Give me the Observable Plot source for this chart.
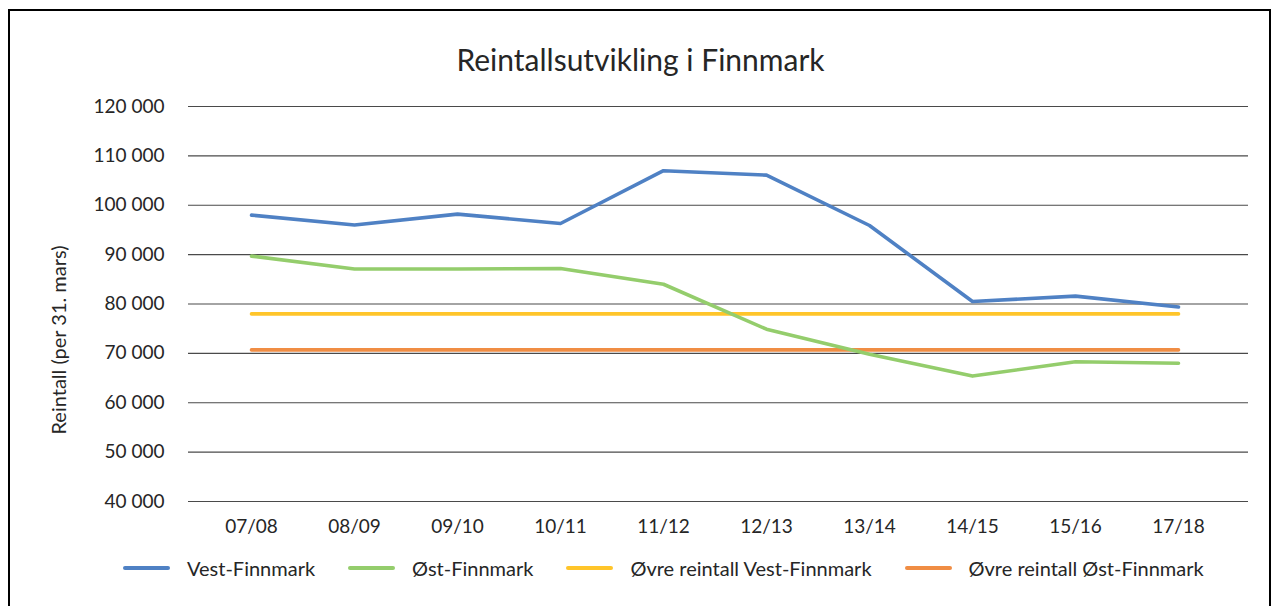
<!DOCTYPE html>
<html><head><meta charset="utf-8">
<script src="https://cdn.jsdelivr.net/npm/d3@7"></script>
<script src="https://cdn.jsdelivr.net/npm/@observablehq/plot@0.6"></script>
<style>
html,body{margin:0;padding:0;background:#fff}
body{font-family:Lato,"Noto Sans",sans-serif;color:#262626}
#wrap{position:relative;width:1273px;height:606px;overflow:hidden;background:#fff}
#frame{position:absolute;left:8px;top:9px;width:1263px;height:610px;border:2px solid #000;box-sizing:border-box;pointer-events:none}
#chart{position:absolute;left:0;top:0}
#title{position:absolute;left:4px;width:1273px;top:44px;text-align:center;font-size:30px;line-height:1;white-space:nowrap}
#ylab{position:absolute;left:58px;top:340px;transform:translate(-50%,-50%) rotate(-90deg);font-size:20px;line-height:1;white-space:nowrap}
#legend{position:absolute;left:123px;top:558px;display:flex;align-items:center;gap:33px;font-size:20px;line-height:20px;white-space:nowrap}
.item{display:flex;align-items:center;gap:17px}
.sw{width:47px;height:4px;border-radius:2px}
</style></head>
<body>
<div id="wrap">
  <div id="chart"></div>
  <div id="title"></div>
  <div id="ylab"></div>
  <div id="legend"></div>
  <div id="frame"></div>
</div>
<script>
const title = "Reintallsutvikling i Finnmark";
const yLabel = "Reintall (per 31. mars)";
const periods = ["07/08","08/09","09/10","10/11","11/12","12/13","13/14","14/15","15/16","17/18"];
const vestFinnmark = [98000, 96000, 98200, 96300, 107000, 106100, 95900, 80500, 81600, 79400];
const ostFinnmark  = [89700, 87100, 87100, 87200, 84000, 74900, 69800, 65400, 68300, 68000];
const ovreVest     = [78000, 78000, 78000, 78000, 78000, 78000, 78000, 78000, 78000, 78000];
const ovreOst      = [70700, 70700, 70700, 70700, 70700, 70700, 70700, 70700, 70700, 70700];
const seriesNames  = ["Vest-Finnmark","Øst-Finnmark","Øvre reintall Vest-Finnmark","Øvre reintall Øst-Finnmark"];
const seriesColors = ["#4F81C4","#94CD6C","#FFC52A","#F08D44"];
const yTicks = [40000,50000,60000,70000,80000,90000,100000,110000,120000];

const seriesValues = [vestFinnmark, ostFinnmark, ovreVest, ovreOst];
const rows = [];
seriesNames.forEach((s, i) => periods.forEach((p, j) => rows.push({series: s, period: p, value: seriesValues[i][j]})));

const fmt = d3.formatLocale({decimal: ",", thousands: " ", grouping: [3], currency: ["", ""]}).format(",");

const drawOrder = [2, 3, 0, 1];
const lineMarks = drawOrder.map(i => Plot.lineY(rows.filter(r => r.series === seriesNames[i]), {
  x: "period", y: "value", stroke: seriesColors[i], strokeWidth: 3.6,
  strokeLinecap: "round", strokeLinejoin: "round"
}));

const chart = Plot.plot({
  width: 1273,
  height: 545,
  marginLeft: 188,
  marginRight: 25,
  marginTop: 106,
  marginBottom: 44,
  style: {fontFamily: "Lato, 'Noto Sans', sans-serif", fontSize: "19px", color: "#262626", background: "transparent"},
  x: {type: "point", domain: periods, range: [248, 1181], padding: 0},
  y: {domain: [40000, 120000]},
  marks: [
    Plot.gridY(yTicks, {stroke: "#4a4a4a", strokeOpacity: 1, strokeWidth: 1.1}),
    Plot.axisY(yTicks, {tickSize: 0, tickPadding: 24, tickFormat: fmt, label: null, fontSize: 19}),
    Plot.axisX(periods, {tickSize: 0, tickPadding: 18, label: null, fontSize: 19}),
    ...lineMarks
  ]
});
document.getElementById("chart").appendChild(chart);
document.getElementById("title").textContent = title;
document.getElementById("ylab").textContent = yLabel;

const legend = document.getElementById("legend");
seriesNames.forEach((s, i) => {
  const item = document.createElement("div");
  item.className = "item";
  const sw = document.createElement("div");
  sw.className = "sw";
  sw.style.background = seriesColors[i];
  const t = document.createElement("span");
  t.textContent = s;
  item.appendChild(sw);
  item.appendChild(t);
  legend.appendChild(item);
});
</script>
</body></html>
